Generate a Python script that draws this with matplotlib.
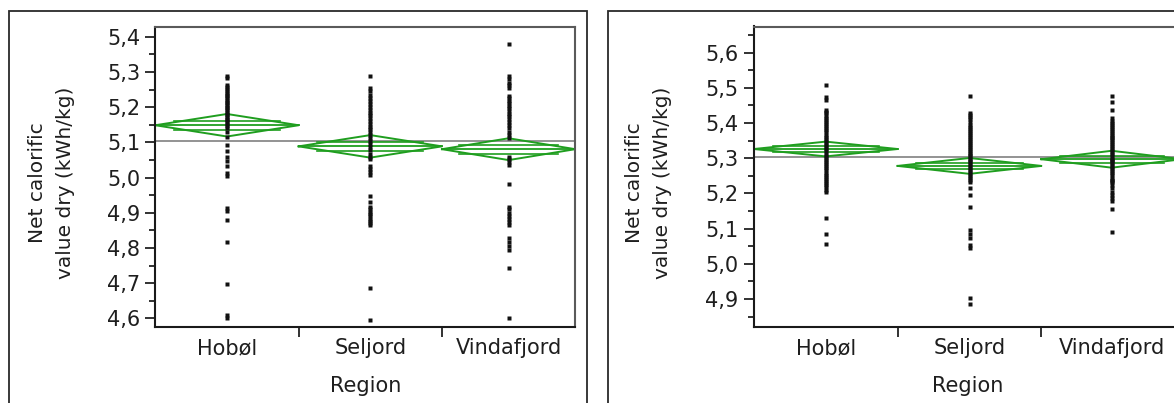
import matplotlib
matplotlib.use('Agg')
import matplotlib.pyplot as plt
from matplotlib.patches import Rectangle
from matplotlib.ticker import MultipleLocator, FuncFormatter, FixedLocator, NullFormatter
import numpy as np

plt.rcParams['font.family'] = ['DejaVu Sans']

regions = ['Hobøl', 'Seljord', 'Vindafjord']

# left panel: individual values per region
left_hobol = [4.601, 4.611, 4.698, 4.817, 4.880, 4.904, 4.914,
              5.004, 5.013, 5.032, 5.046, 5.060, 5.075, 5.094, 5.117, 5.130,
              5.140, 5.146, 5.152, 5.158, 5.163, 5.168, 5.172, 5.177, 5.182,
              5.187, 5.192, 5.197, 5.201, 5.206, 5.211, 5.216, 5.221, 5.226,
              5.231, 5.236, 5.241, 5.247, 5.252, 5.258, 5.264, 5.283, 5.290]
left_seljord = [4.596, 4.686,
                4.866, 4.872, 4.878, 4.884, 4.890, 4.896, 4.903, 4.910, 4.918, 4.932, 4.947,
                5.008, 5.015, 5.025, 5.032, 5.052, 5.060, 5.068, 5.078, 5.088, 5.097,
                5.105, 5.113, 5.121, 5.129, 5.137, 5.145, 5.153, 5.161, 5.169, 5.177,
                5.185, 5.193, 5.201, 5.209, 5.217, 5.226, 5.235, 5.246, 5.255, 5.288]
left_vindafjord = [4.601, 4.743, 4.795, 4.805, 4.818, 4.828, 4.866, 4.874, 4.883,
                   4.892, 4.901, 4.910, 4.918, 4.982,
                   5.037, 5.045, 5.052, 5.060,
                   5.112, 5.122, 5.130, 5.140, 5.150, 5.158, 5.166, 5.174, 5.182,
                   5.190, 5.197, 5.204, 5.211, 5.218, 5.225, 5.231,
                   5.255, 5.262, 5.270, 5.280, 5.290, 5.380]

# right panel
right_hobol = [5.055, 5.084, 5.129,
               5.205, 5.211, 5.217, 5.223, 5.229, 5.235, 5.241, 5.247, 5.253, 5.259,
               5.265, 5.271, 5.277, 5.283, 5.289, 5.295, 5.301, 5.307, 5.313, 5.319,
               5.325, 5.331, 5.337, 5.343, 5.349, 5.355, 5.361, 5.367, 5.373, 5.379,
               5.385, 5.391, 5.397, 5.403, 5.409, 5.415, 5.421, 5.427, 5.432, 5.437,
               5.466, 5.475, 5.508]
right_seljord = [4.885, 4.902,
                 5.044, 5.054, 5.072, 5.084, 5.096,
                 5.162, 5.196, 5.215,
                 5.233, 5.239, 5.244, 5.250, 5.255, 5.261, 5.266, 5.272, 5.277, 5.283,
                 5.288, 5.294, 5.299, 5.305, 5.310, 5.316, 5.321, 5.327, 5.332, 5.338,
                 5.343, 5.349, 5.354, 5.360, 5.365, 5.371, 5.376, 5.382, 5.388, 5.394,
                 5.404, 5.410, 5.416, 5.422, 5.428, 5.477]
right_vindafjord = [5.090, 5.155,
                    5.177, 5.186, 5.196, 5.205, 5.214, 5.224,
                    5.233, 5.236, 5.239, 5.245, 5.251, 5.257, 5.263, 5.269, 5.275, 5.281,
                    5.287, 5.293, 5.296, 5.299, 5.305, 5.311, 5.317, 5.323, 5.329, 5.335,
                    5.341, 5.347, 5.353, 5.356, 5.359, 5.365, 5.371, 5.377, 5.383, 5.389,
                    5.395, 5.401, 5.407, 5.413,
                    5.437, 5.459, 5.478]

# group means, 95% CI half widths and grand mean read from the diamonds
left_means = [5.149, 5.089, 5.081]
left_ci = [0.032, 0.032, 0.031]
left_grand = 5.104
right_means = [5.326, 5.278, 5.297]
right_ci = [0.021, 0.0225, 0.024]
right_grand = 5.303

W, H = 1174, 403
fig = plt.figure(figsize=(W / 100, H / 100), dpi=100)

GREEN = '#1f9e1f'
TXT = '#1e1e1e'


def px_axes(x0, y0, x1, y1):
    return fig.add_axes([x0 / W, 1 - y1 / H, (x1 - x0) / W, (y1 - y0) / H])


def oneway(ax, groups, means, ci, grand, ylim):
    n = [len(g) for g in groups]
    edges = np.concatenate([[0], np.cumsum(n)])
    centers = (edges[:-1] + edges[1:]) / 2
    ax.set_xlim(0, edges[-1])
    ax.set_ylim(*ylim)

    ax.axhline(grand, color='#8a8a8a', lw=1.3, zorder=1)

    for i, g in enumerate(groups):
        x0, x1, xc = edges[i], edges[i + 1], centers[i]
        m, h = means[i], ci[i]
        ax.plot([x0, xc, x1, xc, x0], [m, m + h, m, m - h, m], color=GREEN, lw=1.4, zorder=2)
        ax.plot([x0, x1], [m, m], color=GREEN, lw=1.3, zorder=2)
        w = x1 - x0
        # overlap marks
        for s in (1, -1):
            ax.plot([x0 + 0.13 * w, x1 - 0.13 * w], [m + s * 0.42 * h] * 2,
                    color=GREEN, lw=1.2, zorder=2)
        ax.plot([xc] * len(g), g, 's', ms=2.8, color='#111111', mec='none', zorder=3)

    ax.xaxis.set_major_locator(FixedLocator(edges[1:-1]))
    ax.xaxis.set_major_formatter(NullFormatter())
    ax.xaxis.set_minor_locator(FixedLocator(centers))
    ax.set_xticklabels(regions, minor=True)
    ax.tick_params(axis='x', which='major', length=7, width=1.3, color='#222222')
    ax.tick_params(axis='x', which='minor', length=0, pad=8, labelsize=15, labelcolor=TXT)

    ax.yaxis.set_major_locator(MultipleLocator(0.1))
    ax.yaxis.set_minor_locator(MultipleLocator(0.05))
    ax.yaxis.set_major_formatter(FuncFormatter(lambda v, _: f'{v:.1f}'.replace('.', ',')))
    ax.tick_params(axis='y', which='major', length=7, width=1.3, pad=4, labelsize=15,
                   labelcolor=TXT, color='#222222')
    ax.tick_params(axis='y', which='minor', length=4, width=1.3, color='#222222')

    for side in ('left', 'bottom'):
        ax.spines[side].set_color('#1a1a1a')
        ax.spines[side].set_linewidth(1.5)
    for side in ('top', 'right'):
        ax.spines[side].set_color('#5a5a5a')
        ax.spines[side].set_linewidth(1.5)

    ax.set_xlabel('Region', fontsize=15, color=TXT, labelpad=13)
    ax.set_ylabel('Net calorific\nvalue dry (kWh/kg)', fontsize=14.5, color=TXT,
                  linespacing=1.6, va='center')
    ax.yaxis.set_label_coords(-0.246, 0.48)


# panel frames
fig.add_artist(Rectangle((9 / W, -0.1), (587 - 9) / W, 1.1 - 11 / H, transform=fig.transFigure,
                         fill=False, ec='#2a2a2a', lw=1.3))
fig.add_artist(Rectangle((608 / W, -0.1), 0.5, 1.1 - 11 / H, transform=fig.transFigure,
                         fill=False, ec='#2a2a2a', lw=1.3))

ax1 = px_axes(155.3, 26.5, 575.3, 327.3)
oneway(ax1, [left_hobol, left_seljord, left_vindafjord], left_means, left_ci, left_grand,
       (4.575, 5.4295))

ax2 = px_axes(753.9, 26.5, 1182, 327.3)
oneway(ax2, [right_hobol, right_seljord, right_vindafjord], right_means, right_ci, right_grand,
       (4.8196, 5.674))

fig.savefig('out.png', dpi=100)
